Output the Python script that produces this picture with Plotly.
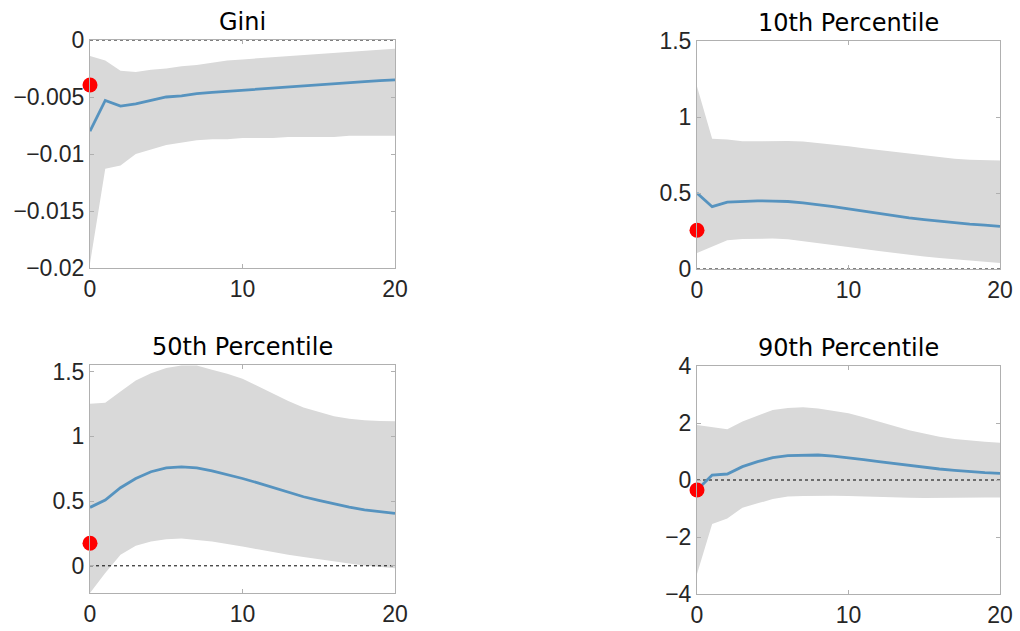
import plotly.graph_objects as go

horizon = list(range(21))

gini_med = [-0.0080, -0.0053, -0.0058, -0.0056, -0.0053, -0.0050, -0.0049, -0.0047, -0.0046, -0.0045,
            -0.0044, -0.0043, -0.0042, -0.0041, -0.0040, -0.0039, -0.00382, -0.00374, -0.00365, -0.00357, -0.0035]
gini_up = [-0.0014, -0.0018, -0.0027, -0.0028, -0.0026, -0.0025, -0.0023, -0.0022, -0.0020, -0.0018,
           -0.0017, -0.0016, -0.0015, -0.0014, -0.0013, -0.00123, -0.00114, -0.00105, -0.00095, -0.00085, -0.00077]
gini_lo = [-0.0196, -0.0113, -0.0110, -0.0100, -0.0096, -0.0092, -0.0090, -0.0088, -0.0087, -0.0087,
           -0.0086, -0.0086, -0.0086, -0.0085, -0.0085, -0.0085, -0.0085, -0.0084, -0.0084, -0.0084, -0.0084]
gini_dot = -0.00395

p10_med = [0.50, 0.41, 0.44, 0.446, 0.448, 0.447, 0.444, 0.435, 0.424, 0.41, 0.395, 0.38, 0.363, 0.347,
           0.336, 0.325, 0.314, 0.304, 0.295, 0.288, 0.281]
p10_up = [1.20, 0.857, 0.852, 0.840, 0.840, 0.843, 0.842, 0.839, 0.83, 0.818, 0.808, 0.795, 0.783, 0.771,
          0.76, 0.748, 0.736, 0.726, 0.718, 0.715, 0.714]
p10_lo = [0.105, 0.145, 0.189, 0.198, 0.2, 0.2, 0.195, 0.184, 0.172, 0.158, 0.145, 0.132, 0.118, 0.105,
          0.093, 0.082, 0.072, 0.063, 0.055, 0.047, 0.04]
p10_dot = 0.255

p50_med = [0.451, 0.508, 0.603, 0.674, 0.726, 0.756, 0.764, 0.756, 0.733, 0.705, 0.674, 0.64, 0.605, 0.568,
           0.533, 0.505, 0.477, 0.453, 0.431, 0.417, 0.405]
p50_up = [1.251, 1.259, 1.346, 1.431, 1.487, 1.526, 1.546, 1.546, 1.513, 1.482, 1.444, 1.387, 1.328, 1.272,
          1.221, 1.185, 1.154, 1.136, 1.123, 1.118, 1.115]
p50_lo = [-0.21, -0.056, 0.085, 0.154, 0.187, 0.205, 0.21, 0.2, 0.187, 0.168, 0.149, 0.127, 0.105, 0.086,
          0.067, 0.05, 0.033, 0.018, 0.003, -0.008, -0.018]
p50_dot = 0.174

p90_med = [-0.35, 0.175, 0.21, 0.468, 0.643, 0.784, 0.854, 0.877, 0.877, 0.835, 0.784, 0.715, 0.643, 0.573,
           0.503, 0.445, 0.386, 0.34, 0.292, 0.26, 0.234]
p90_up = [1.93, 1.85, 1.78, 2.05, 2.25, 2.46, 2.53, 2.55, 2.51, 2.43, 2.34, 2.2, 2.05, 1.9, 1.75, 1.63,
          1.52, 1.44, 1.38, 1.34, 1.31]
p90_lo = [-3.3, -1.54, -1.35, -0.97, -0.82, -0.67, -0.58, -0.56, -0.55, -0.55, -0.56, -0.57, -0.58, -0.6,
          -0.62, -0.63, -0.64, -0.63, -0.62, -0.61, -0.61]
p90_dot = -0.35

titles = ["Gini", "10th Percentile", "50th Percentile", "90th Percentile"]
yranges = [[-0.02, 0], [0, 1.5], [-0.21, 1.55], [-4, 4]]
ytickvals = [[-0.02, -0.015, -0.01, -0.005, 0], [0, 0.5, 1, 1.5], [0, 0.5, 1, 1.5], [-4, -2, 0, 2, 4]]
yticktext = [["\u22120.02", "\u22120.015", "\u22120.01", "\u22120.005", "0"],
             ["0", "0.5", "1", "1.5"], ["0", "0.5", "1", "1.5"],
             ["\u22124", "\u22122", "0", "2", "4"]]
xticks = [0, 10, 20]

panels = [(gini_med, gini_up, gini_lo, gini_dot), (p10_med, p10_up, p10_lo, p10_dot),
          (p50_med, p50_up, p50_lo, p50_dot), (p90_med, p90_up, p90_lo, p90_dot)]

W, H = 1020, 631
boxes = [(90, 395, 40, 268), (697, 1000, 41, 269), (90, 395, 365, 593), (697, 1000, 366, 594)]

TICKFONT = "Liberation Sans, Arial, sans-serif"
TITLEFONT = "DejaVu Sans, sans-serif"
fig = go.Figure()
layout = dict(width=W, height=H, margin=dict(l=0, r=0, t=0, b=0, pad=0, autoexpand=False),
              showlegend=False, plot_bgcolor="white", paper_bgcolor="white", annotations=[])

for i, (med, up, lo, dot) in enumerate(panels):
    n = i + 1
    xa = "x" if n == 1 else f"x{n}"
    ya = "y" if n == 1 else f"y{n}"
    fig.add_trace(go.Scatter(x=horizon + horizon[::-1], y=up + lo[::-1], fill="toself",
                             fillcolor="#d9d9d9", line=dict(width=0), mode="lines",
                             xaxis=xa, yaxis=ya, hoverinfo="skip"))
    fig.add_trace(go.Scatter(x=[horizon[0], horizon[-1]], y=[0, 0], mode="lines",
                             line=dict(color="black", width=1, dash="dot"), xaxis=xa, yaxis=ya))
    fig.add_trace(go.Scatter(x=horizon, y=med, mode="lines", line=dict(color="#5693bf", width=2.8),
                             xaxis=xa, yaxis=ya))
    fig.add_trace(go.Scatter(x=[0], y=[dot], mode="markers", marker=dict(color="#ff0000", size=15),
                             cliponaxis=False, xaxis=xa, yaxis=ya))
    l, r, t, b = boxes[i]
    common = dict(showline=True, mirror="ticks", linecolor="#b0b0b0", linewidth=1, ticks="inside",
                  ticklen=4, tickcolor="#b0b0b0", showgrid=False, zeroline=False, automargin=False,
                  tickfont=dict(family=TICKFONT, size=23, color="#262626"))
    layout["xaxis" if n == 1 else f"xaxis{n}"] = dict(
        domain=[l / W, r / W], range=[0, 20], tickvals=xticks, anchor=ya, **common)
    layout["yaxis" if n == 1 else f"yaxis{n}"] = dict(
        domain=[1 - b / H, 1 - t / H], range=yranges[i], tickvals=ytickvals[i],
        ticktext=yticktext[i], anchor=xa, **common)
    layout["annotations"].append(dict(text=titles[i], x=(l + r) / 2 / W, y=1 - (t - 2) / H,
                                      xref="paper", yref="paper", xanchor="center", yanchor="bottom",
                                      showarrow=False,
                                      font=dict(family=TITLEFONT, size=24, color="black")))

fig.update_layout(**layout)
fig.write_html("out.html")
